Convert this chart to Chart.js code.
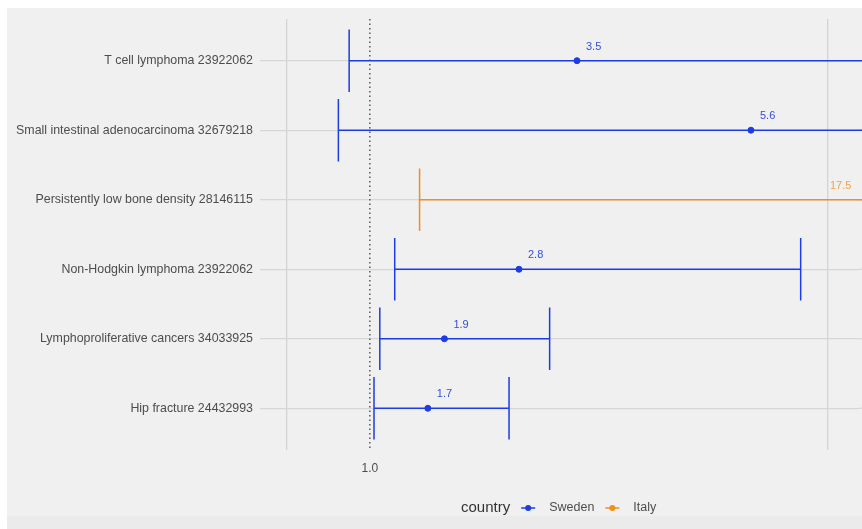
<!DOCTYPE html>
<html>
<head>
<meta charset="utf-8">
<script src="https://cdn.jsdelivr.net/npm/chart.js@4.4.1/dist/chart.umd.min.js"></script>
<style>
  html, body { margin: 0; padding: 0; background: #fff; }
  #wrap { width: 862px; height: 529px; }
</style>
</head>
<body>
<div id="wrap"><canvas id="forest" width="862" height="529"></canvas></div>
<script>
// one row per study, top to bottom
const studies = [
  'T cell lymphoma 23922062',
  'Small intestinal adenocarcinoma 32679218',
  'Persistently low bone density 28146115',
  'Non-Hodgkin lymphoma 23922062',
  'Lymphoproliferative cancers 34033925',
  'Hip fracture 24432993'
]
const country = ['Sweden', 'Sweden', 'Italy', 'Sweden', 'Sweden', 'Sweden']
const estimate = [3.5, 5.6, 17.5, 2.8, 1.9, 1.7]
const lower = [0.75, 0.62, 1.6, 1.3, 1.12, 1.05]
const upper = [16.3, 50.9, 190, 6.2, 3.17, 2.68]
const countries = ['Sweden', 'Italy']
const colors = { Sweden: '#1c3ce6', Italy: '#f28e1c' }
const labelColors = { Sweden: '#3450dc', Italy: '#f0a445' }
const refValue = 1.0

const FONT = '"Liberation Sans", Arial, sans-serif'
const gap = { x: null, y: null }
const lineClip = { left: 2, top: 2, right: 8, bottom: 2 }

function rowsOf (c) {
  return studies.map((s, i) => i).filter(i => country[i] === c)
}

const datasets = []
countries.forEach(c => {
  const rows = rowsOf(c)
  const whiskers = []
  const caps = []
  rows.forEach(i => {
    whiskers.push({ x: lower[i], y: i }, { x: upper[i], y: i }, gap)
    caps.push({ x: lower[i], y: i - 0.45 }, { x: lower[i], y: i + 0.45 }, gap)
    caps.push({ x: upper[i], y: i - 0.45 }, { x: upper[i], y: i + 0.45 }, gap)
  })
  datasets.push({
    type: 'line', label: c + ' CI', data: whiskers.concat(caps), clip: lineClip,
    borderColor: colors[c], borderWidth: 1.5, pointRadius: 0, spanGaps: false, tension: 0
  })
  datasets.push({
    type: 'scatter', label: c, data: rows.map(i => ({ x: estimate[i], y: i })),
    backgroundColor: colors[c], borderColor: colors[c], pointRadius: 3, pointHoverRadius: 3
  })
})
// reference line at 1
datasets.push({
  type: 'line', label: 'ref',
  data: [{ x: refValue, y: -0.6 }, { x: refValue, y: studies.length - 0.4 }],
  borderColor: '#333333', borderWidth: 1.2, borderDash: [1.5, 3], pointRadius: 0
})

const background = {
  id: 'background',
  beforeDraw (chart) {
    const ctx = chart.ctx
    ctx.save()
    ctx.fillStyle = '#ffffff'
    ctx.fillRect(0, 0, chart.width, chart.height)
    ctx.fillStyle = '#f0f0f0'
    ctx.fillRect(7, 8, chart.width - 7, 508)
    ctx.fillStyle = '#ebebeb'
    ctx.fillRect(7, 516, chart.width - 7, chart.height - 516)
    ctx.restore()
  }
}

// horizontal gridlines continue to the right edge of the panel
const gridTail = {
  id: 'gridTail',
  beforeDatasetsDraw (chart) {
    const { ctx, scales: { y }, chartArea } = chart
    ctx.save()
    ctx.strokeStyle = '#d6d6d6'
    ctx.lineWidth = 1.2
    studies.forEach((s, i) => {
      const py = y.getPixelForValue(i)
      ctx.beginPath()
      ctx.moveTo(chartArea.right, py)
      ctx.lineTo(chart.width, py)
      ctx.stroke()
    })
    ctx.restore()
  }
}

const valueLabels = {
  id: 'valueLabels',
  afterDatasetsDraw (chart) {
    const { ctx, scales: { x, y } } = chart
    ctx.save()
    ctx.font = '11px ' + FONT
    ctx.textAlign = 'left'
    ctx.textBaseline = 'middle'
    estimate.forEach((v, i) => {
      const px = Math.min(x.getPixelForValue(v) + 9, chart.width - 32)
      ctx.fillStyle = labelColors[country[i]]
      ctx.fillText(v.toFixed(1), px, y.getPixelForValue(i) - 14)
    })
    ctx.restore()
  }
}

const legendRow = {
  id: 'legendRow',
  afterDraw (chart) {
    const ctx = chart.ctx
    const cy = 508
    ctx.save()
    ctx.textBaseline = 'middle'
    ctx.textAlign = 'left'
    ctx.font = '15px ' + FONT
    ctx.fillStyle = '#333333'
    ctx.fillText('country', 461, cy)
    let x0 = 461 + ctx.measureText('country').width + 11
    ctx.font = '12.5px ' + FONT
    countries.forEach(c => {
      ctx.strokeStyle = colors[c]
      ctx.lineWidth = 1.5
      ctx.beginPath()
      ctx.moveTo(x0, cy)
      ctx.lineTo(x0 + 14, cy)
      ctx.stroke()
      ctx.fillStyle = colors[c]
      ctx.beginPath()
      ctx.arc(x0 + 7, cy, 3, 0, Math.PI * 2)
      ctx.fill()
      ctx.fillStyle = '#4d4d4d'
      ctx.fillText(c, x0 + 28, cy)
      x0 += 28 + ctx.measureText(c).width + 11
    })
    ctx.restore()
  }
}

new Chart(document.getElementById('forest'), {
  type: 'scatter',
  data: { datasets },
  plugins: [background, gridTail, valueLabels, legendRow],
  options: {
    responsive: false,
    animation: false,
    layout: { padding: { top: 19, right: 0, bottom: 0, left: 0 } },
    plugins: { legend: { display: false }, tooltip: { enabled: false } },
    scales: {
      x: {
        type: 'linear',
        min: -0.326,
        max: 6.892,
        afterBuildTicks: s => { s.ticks = [{ value: 0 }, { value: refValue }, { value: 6.53 }] },
        afterFit: s => { s.height = 79 },
        border: { display: false },
        grid: {
          drawTicks: false,
          color: c => (c.tick && c.tick.value === refValue) ? 'rgba(0,0,0,0)' : '#d4d4d4',
          lineWidth: 1.3
        },
        ticks: {
          padding: 11,
          color: '#4d4d4d',
          font: { family: FONT, size: 12 },
          callback: v => (v === refValue ? v.toFixed(1) : '')
        }
      },
      y: {
        type: 'linear',
        reverse: true,
        min: -0.6,
        max: studies.length - 0.4,
        afterBuildTicks: s => { s.ticks = studies.map((n, i) => ({ value: i })) },
        afterFit: s => { s.width = 260 },
        border: { display: false },
        grid: { drawTicks: false, color: '#d6d6d6', lineWidth: 1.2 },
        ticks: {
          padding: 7,
          color: '#4d4d4d',
          font: { family: FONT, size: 12.4 },
          callback: v => studies[v]
        }
      }
    }
  }
})
</script>
</body>
</html>
